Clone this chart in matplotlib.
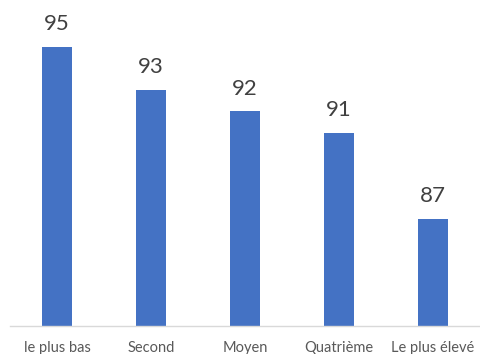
"""Bar chart of scores by group."""

import matplotlib

matplotlib.use("Agg")

import matplotlib.pyplot as plt

categories = ["le plus bas", "Second", "Moyen", "Quatrième", "Le plus élevé"]
values = [95, 93, 92, 91, 87]

BAR_COLOR = "#4472C4"


def main() -> None:
    plt.rcParams["font.family"] = ["Lato", "DejaVu Sans"]
    fig = plt.figure(figsize=(4.8, 3.54), dpi=100)
    ax = fig.add_axes([10 / 480, 28 / 354, 470 / 480, 322 / 354])

    x = range(len(categories))
    bars = ax.bar(x, values, width=0.32, color=BAR_COLOR, zorder=2)
    for bar, value in zip(bars, values):
        ax.annotate(
            f"{value}",
            (bar.get_x() + bar.get_width() / 2, bar.get_height()),
            xytext=(0, 12),
            textcoords="offset points",
            ha="center",
            va="baseline",
            fontsize=16,
            color="#404040",
        )

    ax.set_xlim(-0.5, len(categories) - 0.5)
    ax.set_ylim(82, 97)
    ax.set_xticks(list(x))
    ax.set_xticklabels(categories, fontsize=10.5, color="#595959")
    ax.tick_params(axis="x", length=0, pad=11)
    ax.set_yticks([])
    for side in ("top", "right", "left"):
        ax.spines[side].set_visible(False)
    ax.spines["bottom"].set_color("#D9D9D9")
    ax.spines["bottom"].set_linewidth(1.0)

    fig.savefig("out.png", dpi=100)
    plt.close(fig)


if __name__ == "__main__":
    main()
